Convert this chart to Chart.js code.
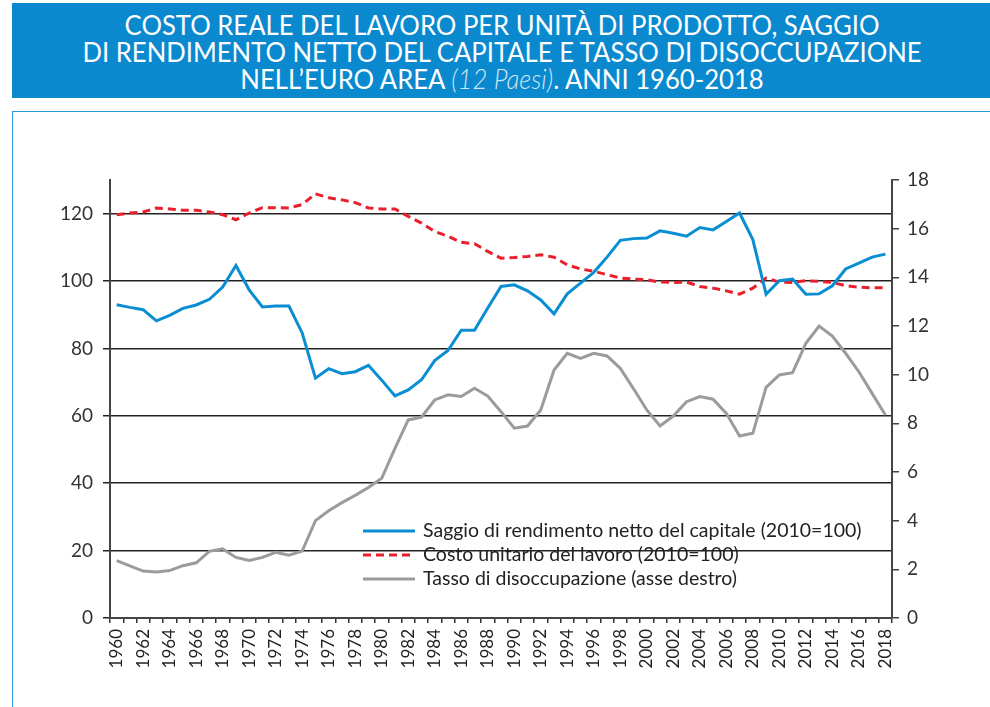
<!DOCTYPE html>
<html>
<head>
<meta charset="utf-8">
<script src="https://cdn.jsdelivr.net/npm/chart.js@4"></script>
<style>
  html, body { margin: 0; padding: 0; background: #fff; overflow: hidden; }
  body { width: 990px; height: 707px; position: relative; font-family: Lato, "Open Sans", sans-serif; }
  #title {
    position: absolute; left: 12px; top: 3px; width: 990px; height: 95px;
    background: #0a89cf; color: #fff;
  }
  #title div {
    position: absolute; left: 0; width: 980px; text-align: center;
    font-size: 27px; line-height: 27px; white-space: nowrap;
    transform-origin: 491px 50%; transform: scaleX(0.95);
  }
  #title i { color: #cfe5f4; font-weight: 300; }
  #frame {
    position: absolute; left: 12px; top: 111px; width: 1000px; height: 620px;
    border: 1.5px solid #2a9ad8; box-sizing: border-box;
  }
  #wrap { position: absolute; left: 0; top: 112px; width: 990px; height: 595px; }
</style>
</head>
<body>
<div id="title">
  <div style="top:8px">COSTO REALE DEL LAVORO PER UNITÀ DI PRODOTTO, SAGGIO</div>
  <div style="top:35px">DI RENDIMENTO NETTO DEL CAPITALE E TASSO DI DISOCCUPAZIONE</div>
  <div style="top:62px">NELL’EURO AREA <i>(12 Paesi)</i>. ANNI 1960-2018</div>
</div>
<div id="frame"></div>
<div id="wrap"><canvas id="c" width="990" height="595"></canvas></div>
<script>
// years 1960-2018
const years = [];
for (let y = 1960; y <= 2018; y++) years.push(String(y));

// Saggio di rendimento netto del capitale (2010=100)
const saggio = [
  93.0, 92.2, 91.5, 88.2, 89.8, 91.9, 92.9, 94.6, 98.2, 104.6,
  97.4, 92.3, 92.6, 92.6, 84.6, 71.2, 74.0, 72.5, 73.1, 75.0,
  70.6, 65.9, 67.7, 70.7, 76.4, 79.4, 85.4, 85.4, 92.0, 98.4,
  98.9, 97.1, 94.4, 90.3, 96.2, 99.4, 102.6, 107.1, 112.1, 112.6,
  112.8, 114.9, 114.2, 113.3, 115.9, 115.2, 117.7, 120.2, 112.3, 96.1,
  100.1, 100.6, 96.1, 96.2, 98.6, 103.6, 105.3, 107.1, 108.0
];

// Costo unitario del lavoro (2010=100)
const costo = [
  119.7, 120.2, 120.5, 121.7, 121.4, 121.0, 121.0, 120.5, 119.7, 118.2,
  120.2, 121.8, 121.8, 121.7, 122.7, 125.9, 124.7, 124.1, 123.3, 121.7,
  121.4, 121.4, 119.2, 117.2, 114.7, 113.3, 111.5, 111.1, 108.8, 106.8,
  107.0, 107.3, 107.8, 107.1, 104.8, 103.6, 102.9, 101.9, 100.9, 100.6,
  100.4, 99.7, 99.6, 99.7, 98.4, 97.9, 97.1, 96.1, 97.9, 100.9,
  99.7, 99.6, 100.1, 99.9, 99.6, 98.6, 98.2, 98.0, 98.0
];

// Tasso di disoccupazione (asse destro)
const disocc = [
  2.36, 2.14, 1.93, 1.89, 1.95, 2.15, 2.27, 2.74, 2.84, 2.49,
  2.36, 2.49, 2.70, 2.58, 2.75, 4.00, 4.41, 4.74, 5.04, 5.36,
  5.74, 6.97, 8.14, 8.25, 8.96, 9.17, 9.10, 9.44, 9.12, 8.48,
  7.80, 7.89, 8.55, 10.19, 10.88, 10.67, 10.88, 10.77, 10.26, 9.42,
  8.55, 7.89, 8.30, 8.89, 9.10, 8.99, 8.41, 7.48, 7.59, 9.48,
  9.99, 10.08, 11.29, 12.00, 11.59, 10.88, 10.12, 9.23, 8.34
];

const leftTicks = [0, 20, 40, 60, 80, 100, 120];
const rightTicks = [0, 2, 4, 6, 8, 10, 12, 14, 16, 18];

const FONT = 'Lato, "Open Sans", sans-serif';

// legend drawn inside the plot, below the curves
const innerLegend = {
  id: 'innerLegend',
  afterDatasetsDraw(chart) {
    const ctx = chart.ctx;
    const a = chart.chartArea;
    ctx.save();
    ctx.font = '19.5px ' + FONT;
    ctx.textBaseline = 'middle';
    chart.data.datasets.forEach((ds, i) => {
      const y = a.top + 351 + i * 24;
      const x = a.left + 253;
      ctx.strokeStyle = ds.borderColor;
      ctx.lineWidth = 3;
      ctx.setLineDash(ds.borderDash || []);
      ctx.beginPath();
      ctx.moveTo(x, y);
      ctx.lineTo(x + 52, y);
      ctx.stroke();
      ctx.setLineDash([]);
      ctx.fillStyle = '#222';
      ctx.fillText(ds.label, x + 60, y);
    });
    ctx.restore();
  }
};

new Chart(document.getElementById('c'), {
  type: 'line',
  data: {
    labels: years,
    datasets: [
      {
        label: 'Saggio di rendimento netto del capitale (2010=100)',
        data: saggio,
        borderColor: '#0a8ed3',
        borderWidth: 3,
        yAxisID: 'y'
      },
      {
        label: 'Costo unitario del lavoro (2010=100)',
        data: costo,
        borderColor: '#e8202b',
        borderWidth: 3,
        borderDash: [8, 5],
        yAxisID: 'y'
      },
      {
        label: 'Tasso di disoccupazione (asse destro)',
        data: disocc,
        borderColor: '#9b9b9b',
        borderWidth: 3,
        yAxisID: 'y1'
      }
    ]
  },
  options: {
    responsive: false,
    animation: false,
    layout: { padding: { top: 68, left: 0, right: 0, bottom: 0 } },
    elements: { point: { radius: 0 }, line: { tension: 0 } },
    plugins: {
      legend: { display: false },
      tooltip: { enabled: false }
    },
    scales: {
      x: {
        offset: true,
        grid: { offset: true, drawOnChartArea: false, color: '#333', lineWidth: 1.5, tickLength: 5 },
        border: { color: '#444', width: 2 },
        ticks: {
          autoSkip: false, minRotation: 90, maxRotation: 90, padding: 6,
          color: '#222', font: { family: FONT, size: 17 },
          callback: function (v, i) { return i % 2 === 0 ? this.getLabelForValue(v) : ''; }
        },
        afterFit(s) { s.height = 89; }
      },
      y: {
        position: 'left',
        min: 0, max: 130,
        afterBuildTicks(s) { s.ticks = leftTicks.map(v => ({ value: v })); },
        grid: { color: '#222', lineWidth: 1.5, tickLength: 7 },
        border: { color: '#444', width: 2 },
        ticks: { color: '#333', padding: 10, font: { family: FONT, size: 19 } },
        afterFit(s) { s.width = 110; }
      },
      y1: {
        position: 'right',
        min: 0, max: 18,
        afterBuildTicks(s) { s.ticks = rightTicks.map(v => ({ value: v })); },
        grid: { drawOnChartArea: false, color: '#444', lineWidth: 1.5, tickLength: 7 },
        border: { color: '#444', width: 2 },
        ticks: { color: '#333', padding: 8, font: { family: FONT, size: 19 } },
        afterFit(s) { s.width = 98; }
      }
    }
  },
  plugins: [innerLegend]
});
</script>
</body>
</html>
